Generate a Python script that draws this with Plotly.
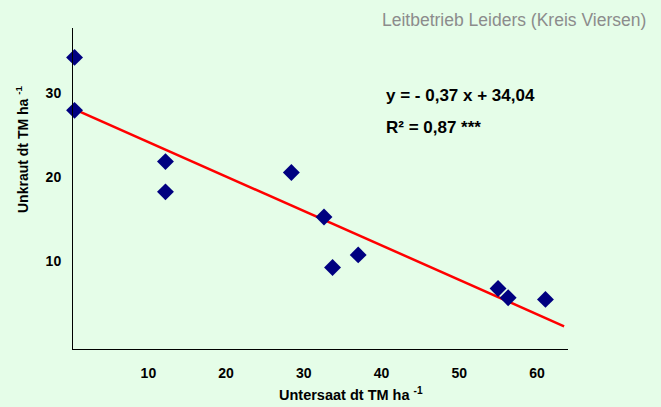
import numpy as np
import plotly.graph_objects as go

# Data
untersaat = [0.5, 0.5, 12.2, 12.2, 28.4, 32.6, 33.7, 37.0, 55.0, 56.3, 61.1]
unkraut = [34.2, 27.9, 21.8, 18.2, 20.5, 15.2, 9.2, 10.7, 6.7, 5.6, 5.4]
trend_x_range = [0.3, 63.5]
x_ticks = [10, 20, 30, 40, 50, 60]
y_ticks = [10, 20, 30]

slope, intercept = np.polyfit(untersaat, unkraut, 1)
tx = np.array(trend_x_range)
ty = slope * tx + intercept

BG = "#E5FDE8"
FONT = "Liberation Sans, Arial, sans-serif"

fig = go.Figure()
fig.add_trace(go.Scatter(x=tx, y=ty, mode="lines",
                         line=dict(color="#FF0000", width=2.5),
                         hoverinfo="skip", showlegend=False))
fig.add_trace(go.Scatter(x=untersaat, y=unkraut, mode="markers", cliponaxis=False,
                         marker=dict(symbol="diamond", size=13, color="#000080",
                                     line=dict(width=0)),
                         showlegend=False))

L, R, T, B = 73, 93, 28, 58
W, H = 661, 407
pw, ph = W - L - R, H - T - B

def px(x):
    return (x - L) / pw

def py(y):
    return (H - B - y) / ph

TICKFONT = dict(family=FONT, size=14, color="#000000", weight="bold")

fig.update_layout(
    width=W, height=H,
    margin=dict(l=L, r=R, t=T, b=B, pad=0),
    paper_bgcolor=BG, plot_bgcolor=BG,
    font=dict(family=FONT, size=12, color="#000000"),
    xaxis=dict(range=[0.3, 64.0], showgrid=False, zeroline=False,
               showline=True, linecolor="#000000", linewidth=1,
               tickvals=x_ticks, ticks="", ticklabelstandoff=11,
               tickfont=TICKFONT),
    yaxis=dict(range=[-0.5, 37.7], showgrid=False, zeroline=False,
               showline=True, linecolor="#000000", linewidth=1,
               tickvals=y_ticks, ticks="", ticklabelstandoff=8,
               tickfont=TICKFONT),
    annotations=[
        dict(text="Leitbetrieb Leiders (Kreis Viersen)", xref="paper", yref="paper",
             x=px(648), y=py(20), xanchor="right", yanchor="middle", showarrow=False,
             font=dict(family=FONT, size=17.5, color="#8C8C8C")),
        dict(text="<b>y = - 0,37 x + 34,04</b>", xref="paper", yref="paper",
             x=px(384), y=py(95), xanchor="left", yanchor="middle", showarrow=False,
             font=dict(family=FONT, size=17, color="#000000")),
        dict(text="<b>R² = 0,87 ***</b>", xref="paper", yref="paper",
             x=px(384), y=py(127), xanchor="left", yanchor="middle", showarrow=False,
             font=dict(family=FONT, size=17, color="#000000")),
        dict(text="<b>Unkraut dt TM ha <sup>-1</sup></b>", xref="paper", yref="paper",
             x=px(22), y=py(150), xanchor="center", yanchor="middle", showarrow=False,
             textangle=-90, font=dict(family=FONT, size=14, color="#000000")),
        dict(text="<b>Untersaat dt TM ha <sup>-1</sup></b>", xref="paper", yref="paper",
             x=px(351), y=py(394), xanchor="center", yanchor="middle", showarrow=False,
             font=dict(family=FONT, size=14.5, color="#000000")),
    ],
)

fig.write_html("out.html", config={"displayModeBar": False},
               post_script="document.body.style.margin='0';document.body.style.overflow='hidden';")
